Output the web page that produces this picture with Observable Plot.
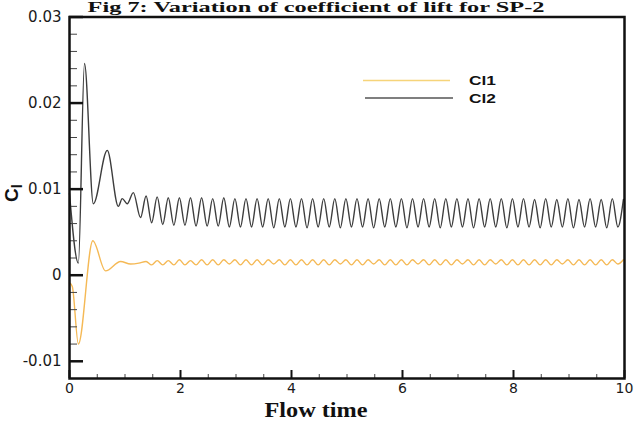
<!DOCTYPE html>
<html><head><meta charset="utf-8">
<script src="https://cdn.jsdelivr.net/npm/d3@7"></script>
<script src="https://cdn.jsdelivr.net/npm/@observablehq/plot@0.6"></script>
<style>
body{margin:0;background:#fff;}
#chart{position:relative;width:636px;height:421px;overflow:hidden;background:#fff;}
</style></head><body><div id="chart"></div>
<script>
// ---- data ----
const seriesNames = ["Cl1", "Cl2"];
const titleText = "Fig 7: Variation of coefficient of lift for SP-2";
const xLabel = "Flow time";

// transient start (extrema)
const startTimeCl1 = [0, 0.05, 0.16, 0.42, 0.65, 0.92, 1.10, 1.25];
const startCl1     = [-0.0009, -0.0013, -0.0080, 0.0040, 0.0005, 0.0016, 0.0013, 0.0014];
const startTimeCl2 = [0, 0.16, 0.27, 0.43, 0.68, 0.88, 0.95, 1.04, 1.15, 1.28];
const startCl2     = [0.0095, 0.0014, 0.0246, 0.0083, 0.0145, 0.0080, 0.0089, 0.0083, 0.0096, 0.0067];

// periodic part: successive peaks / troughs
const cycleTime = [
  1.38,1.48,1.58,1.68,1.78,1.88,1.98,2.08,2.18,2.28,
  2.38,2.48,2.58,2.68,2.78,2.88,2.98,3.08,3.18,3.28,
  3.38,3.48,3.58,3.68,3.78,3.88,3.98,4.08,4.18,4.28,
  4.38,4.48,4.58,4.68,4.78,4.88,4.98,5.08,5.18,5.28,
  5.38,5.48,5.58,5.68,5.78,5.88,5.98,6.08,6.18,6.28,
  6.38,6.48,6.58,6.68,6.78,6.88,6.98,7.08,7.18,7.28,
  7.38,7.48,7.58,7.68,7.78,7.88,7.98,8.08,8.18,8.28,
  8.38,8.48,8.58,8.68,8.78,8.88,8.98,9.08,9.18,9.28,
  9.38,9.48,9.58,9.68,9.78,9.88,9.98
];
const cycleCl2 = [
  0.0092,0.0061,0.0091,0.0059,0.0090,0.0058,0.0090,0.0058,0.0090,0.0057,
  0.0090,0.0057,0.0089,0.0057,0.0090,0.0056,0.0089,0.0056,0.0089,0.0056,
  0.0089,0.0056,0.0089,0.0055,0.0089,0.0056,0.0089,0.0056,0.0089,0.0055,
  0.0089,0.0056,0.0089,0.0056,0.0089,0.0055,0.0089,0.0056,0.0089,0.0056,
  0.0089,0.0055,0.0089,0.0056,0.0089,0.0056,0.0089,0.0055,0.0089,0.0056,
  0.0089,0.0056,0.0089,0.0055,0.0089,0.0056,0.0089,0.0056,0.0089,0.0055,
  0.0089,0.0056,0.0089,0.0056,0.0089,0.0055,0.0089,0.0056,0.0089,0.0056,
  0.0088,0.0055,0.0089,0.0056,0.0088,0.0056,0.0089,0.0055,0.0088,0.0056,
  0.0089,0.0056,0.0088,0.0055,0.0089,0.0056,0.0088
];
const cycleCl1 = [
  0.0016,0.0012,0.0017,0.0012,0.0017,0.0012,0.0018,0.0012,0.0017,0.0012,
  0.0018,0.0012,0.0018,0.0012,0.0018,0.0013,0.0018,0.0012,0.0018,0.0012,
  0.0018,0.0012,0.0018,0.0013,0.0018,0.0012,0.0018,0.0012,0.0018,0.0012,
  0.0018,0.0012,0.0018,0.0012,0.0018,0.0013,0.0018,0.0012,0.0018,0.0012,
  0.0018,0.0013,0.0018,0.0012,0.0018,0.0012,0.0018,0.0012,0.0018,0.0013,
  0.0018,0.0012,0.0018,0.0012,0.0018,0.0012,0.0018,0.0013,0.0018,0.0012,
  0.0018,0.0012,0.0018,0.0013,0.0018,0.0012,0.0018,0.0012,0.0018,0.0012,
  0.0018,0.0012,0.0018,0.0012,0.0018,0.0013,0.0018,0.0012,0.0018,0.0012,
  0.0018,0.0012,0.0018,0.0012,0.0018,0.0013,0.0018
];

// axis ticks
const xMajorTicks = [0, 2, 4, 6, 8, 10];
const xMinorTicks = [0.5, 1, 1.5, 2.5, 3, 3.5, 4.5, 5, 5.5, 6.5, 7, 7.5, 8.5, 9, 9.5];
const yMajorTicks = [-0.01, 0, 0.01, 0.02, 0.03];
const yMinorTicks = [-0.008, -0.006, -0.004, -0.002, 0.002, 0.004, 0.006, 0.008,
                     0.012, 0.014, 0.016, 0.018, 0.022, 0.024, 0.026, 0.028];
const yTickLabels = ["-0.01", "0", "0.01", "0.02", "0.03"];

// ---- build table ----
const cl1Data = [
  ...startTimeCl1.map((t, i) => ({t, v: startCl1[i]})),
  ...cycleTime.map((t, i) => ({t, v: cycleCl1[i]}))
];
const cl2Data = [
  ...startTimeCl2.map((t, i) => ({t, v: startCl2[i]})),
  ...cycleTime.map((t, i) => ({t, v: cycleCl2[i]}))
];

const W = 636, H = 421, mL = 69, mR = 12, mT = 16.5, mB = 43;
const fw = W - mL - mR, fh = H - mT - mB;
const colCl1 = "#f5b955", colCl2 = "#3d3d3d";

const plot = Plot.plot({
  width: W, height: H,
  marginLeft: mL, marginRight: mR, marginTop: mT, marginBottom: mB,
  style: {fontFamily: "DejaVu Sans", fontSize: "15px", color: "#1a1a1a", background: "#fff", overflow: "visible"},
  x: {domain: [0, 10]},
  y: {domain: [-0.012, 0.03]},
  marks: [
    Plot.line(cl1Data, {x: "t", y: "v", stroke: colCl1, strokeWidth: 1.4, curve: "monotone-x"}),
    Plot.line(cl2Data, {x: "t", y: "v", stroke: colCl2, strokeWidth: 1.4, curve: "monotone-x"}),
    Plot.tickX(xMajorTicks, {x: d => d, insetTop: fh - 8, stroke: "#111", strokeWidth: 2}),
    Plot.tickX(xMinorTicks, {x: d => d, insetTop: fh - 4, stroke: "#444", strokeWidth: 1}),
    Plot.tickY(yMajorTicks, {y: d => d, insetRight: fw - 14, stroke: "#111", strokeWidth: 2.5}),
    Plot.tickY(yMinorTicks, {y: d => d, insetRight: fw - 8, stroke: "#444", strokeWidth: 1}),
    Plot.axisX(xMajorTicks, {tickSize: 0, tickPadding: 5, label: null, fontSize: 14,
      tickFormat: d => String(d)}),
    Plot.axisY(yMajorTicks, {tickSize: 0, tickPadding: 8, label: null, fontSize: 15,
      tickFormat: d => yTickLabels[yMajorTicks.indexOf(d)]}),
    Plot.frame({stroke: "#111", strokeWidth: 2.5})
  ]
});

const svg = d3.select(plot);
// title
svg.append("text")
  .attr("x", 316).attr("y", 12).attr("text-anchor", "middle")
  .attr("font-family", "Liberation Serif").attr("font-weight", "bold").attr("font-size", 14)
  .attr("textLength", 457).attr("lengthAdjust", "spacingAndGlyphs")
  .attr("fill", "#111").text(titleText);
// x label
svg.append("text")
  .attr("x", 316).attr("y", 417).attr("text-anchor", "middle")
  .attr("font-family", "Liberation Serif").attr("font-weight", "bold").attr("font-size", 20)
  .attr("textLength", 103).attr("lengthAdjust", "spacingAndGlyphs")
  .attr("fill", "#111").text(xLabel);
// y label
const yl = svg.append("text")
  .attr("transform", "translate(18,193) rotate(-90)").attr("text-anchor", "middle")
  .attr("font-family", "Liberation Sans").attr("font-weight", "bold").attr("font-size", 19)
  .attr("fill", "#111");
yl.append("tspan").text("C");
yl.append("tspan").attr("dy", 4).attr("font-size", 15).text("l");
// legend
const legend = svg.append("g");
const legendRows = [
  {name: seriesNames[0], color: "#f6d47a", x1: 363, x2: 450, y: 80.5},
  {name: seriesNames[1], color: "#555", x1: 365, x2: 453, y: 98}
];
legendRows.forEach(r => {
  legend.append("line").attr("x1", r.x1).attr("x2", r.x2).attr("y1", r.y).attr("y2", r.y)
    .attr("stroke", r.color).attr("stroke-width", 1.3);
  legend.append("text").attr("x", 469).attr("y", r.y).attr("dy", "0.36em")
    .attr("text-anchor", "start")
    .attr("font-family", "Liberation Sans").attr("font-weight", "bold").attr("font-size", 13)
    .attr("textLength", 27).attr("lengthAdjust", "spacingAndGlyphs")
    .attr("fill", "#111").text(r.name);
});

document.getElementById("chart").appendChild(plot);
</script>
</body></html>
